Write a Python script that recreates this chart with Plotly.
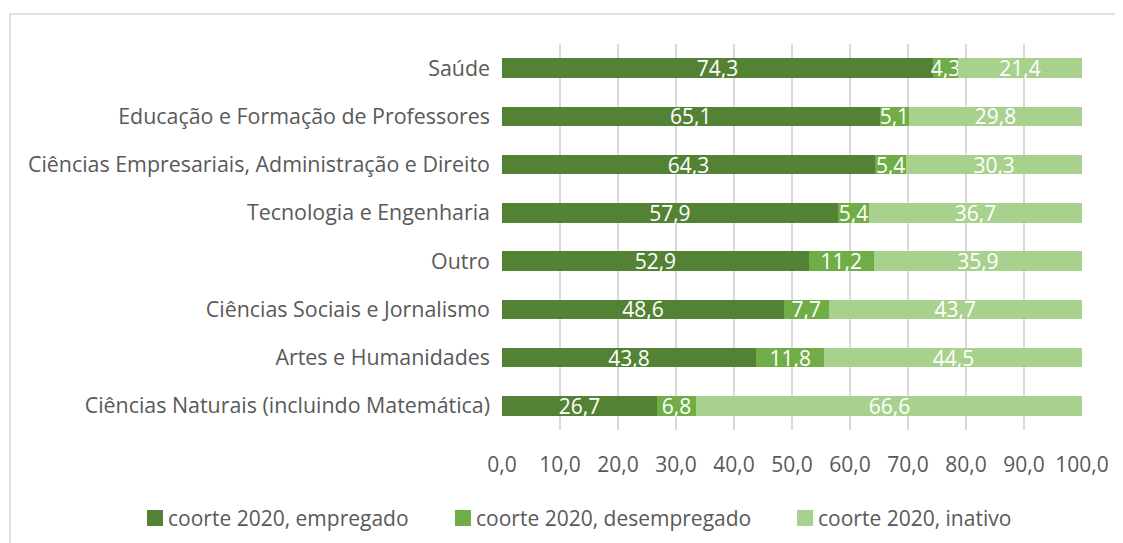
import plotly.graph_objects as go

categories = [
    "Saúde",
    "Educação e Formação de Professores",
    "Ciências Empresariais, Administração e Direito",
    "Tecnologia e Engenharia",
    "Outro",
    "Ciências Sociais e Jornalismo",
    "Artes e Humanidades",
    "Ciências Naturais (incluindo Matemática)",
]
empregado = [74.3, 65.1, 64.3, 57.9, 52.9, 48.6, 43.8, 26.7]
desempregado = [4.3, 5.1, 5.4, 5.4, 11.2, 7.7, 11.8, 6.8]
inativo = [21.4, 29.8, 30.3, 36.7, 35.9, 43.7, 44.5, 66.6]
series_names = ["coorte 2020, empregado", "coorte 2020, desempregado", "coorte 2020, inativo"]
colors = ["#548235", "#70AD47", "#A9D18E"]
tick_vals = [0, 10, 20, 30, 40, 50, 60, 70, 80, 90, 100]
tick_text = [f"{v:.1f}".replace(".", ",") for v in tick_vals]

FONT = "Open Sans"
TXT = "#595959"
FS = 21

fig = go.Figure()
for name, vals, col in zip(series_names, [empregado, desempregado, inativo], colors):
    fig.add_trace(go.Bar(
        y=categories, x=vals, name=name, orientation="h",
        marker=dict(color=col, line=dict(width=0)),
        text=[f"{v:.1f}".replace(".", ",") for v in vals],
        textposition="inside", insidetextanchor="middle",
        textfont=dict(color="white", size=FS, family=FONT),
        constraintext="none",
        hoverinfo="skip",
        showlegend=False,
    ))

# page body has an 8px margin; work in reference pixel coords and shift
OFF = 8
W, H = 1123 - OFF, 543 - OFF
PL, PR, PT, PB = 502, 1082, 44, 430  # plot area in reference px
L, R, T, B = PL - OFF, W - (PR - OFF), PT - OFF, H - (PB - OFF)
pw, ph = W - L - R, H - T - B

def px_x(x):
    return (x - OFF - L) / pw

def px_y(y):
    return (H - B - (y - OFF)) / ph

fig.add_shape(type="rect", xref="paper", yref="paper",
              x0=px_x(10), x1=px_x(1140), y0=px_y(570), y1=px_y(14),
              line=dict(color="#D9D9D9", width=1.5), fillcolor="rgba(0,0,0,0)", layer="below")

# legend drawn as square markers + labels
legend_square_x = [147, 455, 797]
for name, col, sx in zip(series_names, colors, legend_square_x):
    fig.add_shape(type="rect", xref="paper", yref="paper",
                  x0=px_x(sx), x1=px_x(sx + 16), y0=px_y(526), y1=px_y(510),
                  line=dict(width=0), fillcolor=col)
    fig.add_annotation(xref="paper", yref="paper", x=px_x(sx + 19), y=px_y(518),
                       xanchor="left", yanchor="middle", showarrow=False,
                       text=name, font=dict(size=FS, color=TXT, family=FONT))

fig.update_layout(
    width=W, height=H,
    margin=dict(l=L, r=R, t=T, b=B, autoexpand=False),
    barmode="stack", bargap=0.6,
    plot_bgcolor="white", paper_bgcolor="white",
    font=dict(family=FONT, color=TXT, size=FS),
    uniformtext=dict(minsize=FS - 1, mode="show"),
    xaxis=dict(range=[0, 100], tickvals=tick_vals, ticktext=tick_text,
               showgrid=True, gridcolor="#D9D9D9", gridwidth=1.5,
               zeroline=False, showline=False, ticks="",
               ticklabelstandoff=20, tickfont=dict(size=FS, color=TXT)),
    yaxis=dict(autorange="reversed", showgrid=False, zeroline=False, showline=False,
               ticks="", ticklabelstandoff=11, tickfont=dict(size=21.4, color=TXT)),
    showlegend=False,
)

fig.write_html("out.html")
